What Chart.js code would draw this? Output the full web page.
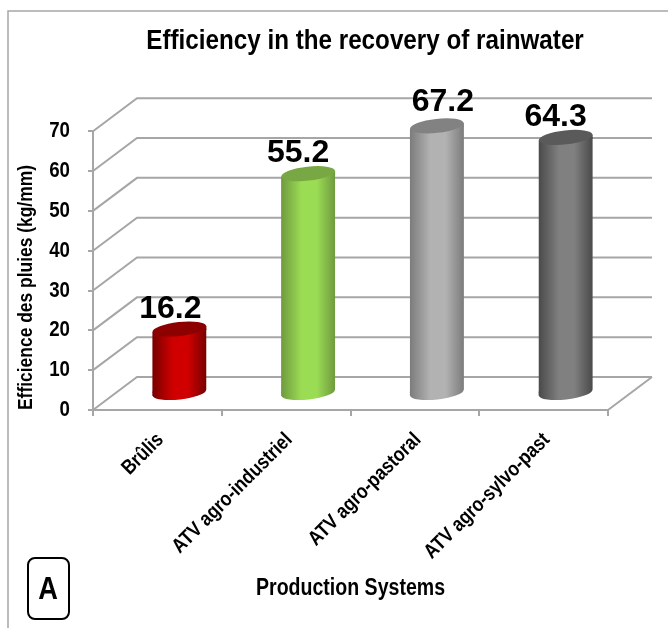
<!DOCTYPE html>
<html>
<head>
<meta charset="utf-8">
<style>
  html, body { margin: 0; padding: 0; background: #fff; }
  #wrap { width: 668px; height: 628px; }
</style>
<script src="https://cdn.jsdelivr.net/npm/chart.js@4"></script>
</head>
<body>
<div id="wrap"><canvas id="chart" width="668" height="628"></canvas></div>
<script>
const categories = ["Brûlis", "ATV agro-industriel", "ATV agro-pastoral", "ATV agro-sylvo-past"];
const efficiency = [16.2, 55.2, 67.2, 64.3];
const yTicks = [0, 10, 20, 30, 40, 50, 60, 70];

const chartTitle = "Efficiency in the recovery of rainwater";
const yTitle = "Efficience des pluies (kg/mm)";
const xTitle = "Production Systems";
const panelLetter = "A";

// edge, middle, cap colours per cylinder
const barEdge = ["#780000", "#6f9a3e", "#7c7c7c", "#4a4a4a"];
const barMiddle = ["#d00000", "#9bdc55", "#b2b2b2", "#808080"];
const barCap = ["#8c0000", "#78a843", "#828282", "#5a5a5a"];

const FONT = "'Liberation Sans', Arial, sans-serif";
const GRID = "#a6a6a6";

// fake 3D: how far the back wall sits from the axes
const DEPTH_X = 44, DEPTH_Y = 33;
const BAR_W = 54, CAP_H = 7, TILT = -0.11;
// the value labels are hand placed in the original
const labelShift = [-9, -10, 6, -10];
const labelRise = [11, 11.5, 14.5, 11];

// the original picture was squeezed sideways, so text is too (except the values)
let squeeze = 0.85;
const canvas = document.getElementById("chart");
const rawCtx = canvas.getContext("2d");
rawCtx.fillText = function (text, x, y) {
  this.save();
  this.translate(x, y);
  this.scale(squeeze, 1);
  CanvasRenderingContext2D.prototype.fillText.call(this, text, 0, 0);
  this.restore();
};

function cylinderFill(context) {
  const chart = context.chart;
  if (!chart.chartArea || context.dataIndex === undefined) return barMiddle[0];
  const i = context.dataIndex;
  const x = chart.scales.x.getPixelForValue(i);
  const g = chart.ctx.createLinearGradient(x - BAR_W / 2, 0, x + BAR_W / 2, 0);
  g.addColorStop(0, barEdge[i]);
  g.addColorStop(0.38, barMiddle[i]);
  g.addColorStop(0.66, barMiddle[i]);
  g.addColorStop(1, barEdge[i]);
  return g;
}

function ellipse(ctx, x, y) {
  ctx.beginPath();
  ctx.ellipse(x, y, BAR_W / 2, CAP_H, TILT, 0, Math.PI * 2);
  ctx.fill();
}

const rise = BAR_W / 2 * Math.sin(-TILT);

const threeD = {
  id: "threeD",
  afterLayout(chart) {
    // title sits right of the plot centre in the original
    chart.titleBlock.left = 122;
  },
  beforeDraw(chart) {
    const { ctx, scales: { x, y } } = chart;
    const left = x.left, right = x.right;
    ctx.save();
    // outer frame, open on the right and bottom
    ctx.strokeStyle = GRID;
    ctx.lineWidth = 1.5;
    ctx.beginPath();
    ctx.moveTo(8, 628);
    ctx.lineTo(8, 11);
    ctx.lineTo(668, 11);
    ctx.stroke();

    ctx.strokeStyle = GRID;
    ctx.lineWidth = 2;
    ctx.beginPath();
    yTicks.forEach(v => {
      const py = y.getPixelForValue(v);
      ctx.moveTo(left, py);
      ctx.lineTo(left + DEPTH_X, py - DEPTH_Y);
      ctx.lineTo(right + DEPTH_X, py - DEPTH_Y);
    });
    // floor right edge
    const y0 = y.getPixelForValue(0);
    ctx.moveTo(right + DEPTH_X, y0 - DEPTH_Y);
    ctx.lineTo(right, y0);
    ctx.stroke();

    // panel letter box
    ctx.strokeStyle = "#000";
    ctx.lineWidth = 2;
    ctx.beginPath();
    ctx.roundRect(28, 558, 41, 61, 7);
    ctx.stroke();
    ctx.fillStyle = "#000";
    ctx.font = "bold 32px " + FONT;
    ctx.textAlign = "center";
    ctx.textBaseline = "middle";
    ctx.fillText(panelLetter, 48, 590);
    ctx.restore();
  },
  beforeDatasetsDraw(chart) {
    const { ctx } = chart;
    const bars = chart.getDatasetMeta(0).data;
    ctx.save();
    ctx.translate(DEPTH_X / 2, -DEPTH_Y / 2);
    // bottom ellipses go under the bodies
    bars.forEach(b => {
      ctx.fillStyle = b.options.backgroundColor;
      ellipse(ctx, b.x, b.base);
      // left wedge between the flat bar end and the tilted ellipse
      ctx.beginPath();
      ctx.moveTo(b.x - BAR_W / 2, b.base - 1);
      ctx.lineTo(b.x, b.base - 1);
      ctx.lineTo(b.x, b.base);
      ctx.lineTo(b.x - BAR_W / 2, b.base + rise);
      ctx.closePath();
      ctx.fill();
    });
    // cut the flat bar ends along the tilt of the caps
    ctx.beginPath();
    bars.forEach(b => {
      ctx.moveTo(b.x - BAR_W / 2, b.y + rise);
      ctx.lineTo(b.x + BAR_W / 2, b.y - rise);
      ctx.lineTo(b.x + BAR_W / 2, b.base - rise);
      ctx.lineTo(b.x - BAR_W / 2, b.base + rise);
      ctx.closePath();
    });
    ctx.clip();
  },
  afterDatasetsDraw(chart) {
    const { ctx } = chart;
    const bars = chart.getDatasetMeta(0).data;
    ctx.restore();
    ctx.save();
    ctx.translate(DEPTH_X / 2, -DEPTH_Y / 2);
    bars.forEach((b, i) => {
      ctx.fillStyle = b.options.backgroundColor;
      ctx.beginPath();
      ctx.moveTo(b.x, b.y);
      ctx.lineTo(b.x + BAR_W / 2, b.y - rise);
      ctx.lineTo(b.x + BAR_W / 2, b.y + 1);
      ctx.closePath();
      ctx.fill();
      ctx.fillStyle = barCap[i];
      ellipse(ctx, b.x, b.y);
    });
    ctx.fillStyle = "#000";
    ctx.font = "bold 32px " + FONT;
    ctx.textAlign = "center";
    ctx.textBaseline = "alphabetic";
    squeeze = 1;
    bars.forEach((b, i) => {
      ctx.fillText(efficiency[i].toFixed(1), b.x + labelShift[i], b.y - labelRise[i]);
    });
    squeeze = 0.85;
    ctx.restore();
  }
};

new Chart(canvas, {
  type: "bar",
  data: {
    labels: categories,
    datasets: [{
      data: efficiency,
      barThickness: BAR_W,
      backgroundColor: cylinderFill,
      borderWidth: 0,
      clip: false
    }]
  },
  plugins: [threeD],
  options: {
    responsive: false,
    animation: false,
    devicePixelRatio: 1,
    layout: { autoPadding: false, padding: { left: 14, right: 60, top: 24, bottom: 26 } },
    plugins: {
      legend: { display: false },
      tooltip: { enabled: false },
      title: {
        display: true,
        text: chartTitle,
        color: "#000",
        font: { family: FONT, size: 28.5, weight: "bold" },
        padding: { top: 0, bottom: 73 }
      }
    },
    scales: {
      x: {
        offset: true,
        border: { color: GRID, width: 2 },
        grid: { color: GRID, lineWidth: 2, drawOnChartArea: false, tickLength: 6 },
        ticks: {
          color: "#000",
          font: { family: FONT, size: 20.5, weight: "bold" },
          minRotation: 45,
          maxRotation: 45,
          labelOffset: 3,
          padding: 12
        },
        title: {
          display: true,
          text: xTitle,
          color: "#000",
          font: { family: FONT, size: 23, weight: "bold" },
          padding: 0
        },
        afterFit(scale) { scale.height = 192; }
      },
      y: {
        min: 0,
        max: 70,
        border: { color: GRID, width: 2 },
        grid: { color: GRID, lineWidth: 2, drawOnChartArea: false, tickLength: 5 },
        ticks: {
          stepSize: 10,
          color: "#000",
          font: { family: FONT, size: 22, weight: "bold" },
          padding: 18
        },
        title: {
          display: true,
          align: "start",
          text: yTitle,
          color: "#000",
          font: { family: FONT, size: 20.5, weight: "bold" },
          padding: 0
        },
        afterFit(scale) { scale.width = 79; }
      }
    }
  }
});
</script>
</body>
</html>
